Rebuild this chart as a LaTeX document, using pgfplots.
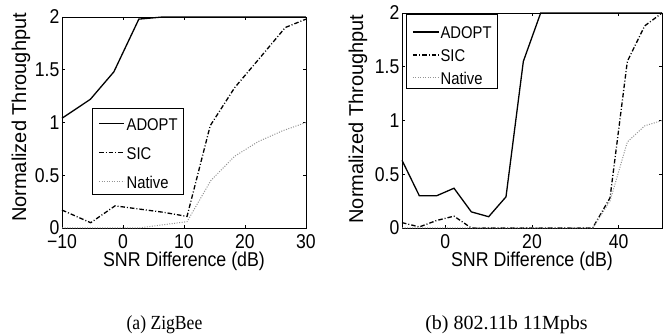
\documentclass[border=0pt]{standalone}
\usepackage{fontspec}
\setmainfont{Liberation Sans}[FakeStretch=0.88]
\newfontfamily\ylfont{Liberation Sans}
\newfontfamily\xlfont{Liberation Sans}[FakeStretch=0.89]
\newfontfamily\legfont{Liberation Sans}[FakeStretch=0.87]
\newfontfamily\capA{Liberation Serif}[FakeStretch=0.88]
\newfontfamily\capB{Liberation Serif}
\usepackage{pgfplots}
\pgfplotsset{compat=1.18}
\pgfplotsset{
  mystyle/.style={
    scale only axis,
    clip=false,
    axis line style={line width=0.9bp},
    tick align=inside,
    tick style={line width=0.6bp, black},
    major tick length=3bp,
    ymin=0, ymax=2,
    ytick={0,0.5,1,1.5,2},
    yticklabels={0,0.5,1,1.5,2},
    /pgf/number format/assume math mode=true,
    tick label style={font=\fontsize{20bp}{20bp}\selectfont},
    xticklabel style={inner sep=0pt, anchor=north, yshift=-6.5bp},
    yticklabel style={inner sep=0pt, anchor=east, xshift=-2.5bp},
    xlabel style={font=\xlfont\fontsize{20bp}{20bp}\selectfont, at={(axis description cs:0.5,0)}, anchor=base, yshift=-39bp},
    ylabel style={font=\ylfont\fontsize{20bp}{20bp}\selectfont, anchor=center},
  },
  adopt/.style={black, line width=1.3bp},
  sic/.style={black, line width=1.3bp, dash pattern=on 4.5bp off 2bp on 1bp off 2bp},
  native/.style={gray!85, line width=1bp, dash pattern=on 1bp off 1.5bp},
}
\begin{document}
\begin{tikzpicture}
\useasboundingbox (0,0) rectangle (664bp,335bp);
% ---------- (a) ZigBee ----------
\begin{axis}[mystyle,
  at={(62bp,107bp)}, anchor=south west,
  width=244bp, height=211bp,
  xmin=-10, xmax=30,
  xtick={-10,0,10,20,30},
  xticklabels={−10,0,10,20,30},
  xlabel={SNR Difference (dB)},
  ylabel={Normalized Throughput},
  every axis y label/.append style={at={(axis description cs:-0.168,0.524)}},
  legend style={at={(0.124,0.570)}, anchor=north west, draw=black, line width=0.8bp,
    inner xsep=5.7bp, inner ysep=6bp, row sep=13bp, column sep=2bp,
    font=\legfont\fontsize{17bp}{17bp}\selectfont,
    nodes={inner sep=0pt, text height=16bp, text depth=0pt},
    cells={anchor=west}},
  legend image code/.code={\draw[#1] (0bp,-1.5bp) -- (25bp,-1.5bp);},
]
\addplot[adopt] coordinates {(-10,1.04) (-5.35,1.22) (-1.5,1.48) (2.6,1.98) (6.5,2.0) (10.5,2.0) (14.4,2.0) (18.3,2.0) (22.2,2.0) (26.1,2.0) (30,2.0)};
\addlegendentry{ADOPT}
\addplot[sic] coordinates {(-10,0.17) (-5.3,0.05) (-1.3,0.21) (2.6,0.18) (6.5,0.15) (10.5,0.11) (14.3,0.97) (18.3,1.33) (22.4,1.61) (26.6,1.90) (30,1.98)};
\addlegendentry{SIC}
\addplot[native] coordinates {(-10,0) (-6,0) (-2,0) (2.6,0) (6.5,0.03) (10.5,0.06) (14.4,0.45) (18.3,0.68) (22.2,0.82) (26.1,0.92) (30,1.0)};
\addlegendentry{Native}
\end{axis}
% ---------- (b) 802.11b ----------
\begin{axis}[mystyle,
  at={(402bp,107bp)}, anchor=south west,
  width=260bp, height=215bp,
  xmin=-10, xmax=50,
  xtick={0,20,40},
  xticklabels={0,20,40},
  xlabel={SNR Difference (dB)},
  ylabel={Normalized Throughput},
  every axis y label/.append style={at={(axis description cs:-0.169,0.507)}},
  legend style={at={(0.015,0.995)}, anchor=north west, draw=black, line width=0.8bp,
    inner xsep=6bp, inner ysep=4bp, row sep=3bp, column sep=1bp,
    font=\legfont\fontsize{17bp}{17bp}\selectfont,
    nodes={inner sep=0pt, text height=20bp, text depth=0pt},
    cells={anchor=west}},
  legend image code/.code={\draw[#1] (0bp,-3.5bp) -- (26bp,-3.5bp);},
]
\addplot[adopt] coordinates {(-10,0.63) (-6,0.30) (-2,0.30) (2,0.37) (6,0.15) (10,0.105) (14,0.29) (18,1.55) (22,2.0) (26,2.0) (30,2.0) (34,2.0) (38,2.0) (42,2.0) (46,2.0) (50,2.0)};
\addlegendentry{ADOPT}
\addplot[sic] coordinates {(-10,0.05) (-6,0.01) (-2,0.07) (2,0.11) (6,0) (10,0) (14,0) (18,0) (22,0) (26,0) (30,0) (34,0) (38,0.28) (42,1.55) (46,1.88) (50,2.0)};
\addlegendentry{SIC}
\addplot[native] coordinates {(-10,0) (-6,0) (-2,0) (2,0) (6,0) (10,0) (14,0) (18,0) (22,0) (26,0) (30,0) (34,0) (38,0.25) (42,0.80) (46,0.95) (50,1.0)};
\addlegendentry{Native}
\end{axis}
% ---------- captions ----------
\node[anchor=base, font=\capA\fontsize{20bp}{20bp}\selectfont] at (164.5bp,6bp) {(a) ZigBee};
\node[anchor=base, font=\capB\fontsize{20bp}{20bp}\selectfont] at (506.5bp,6bp) {(b) 802.11b 11Mpbs};
\end{tikzpicture}
\end{document}
